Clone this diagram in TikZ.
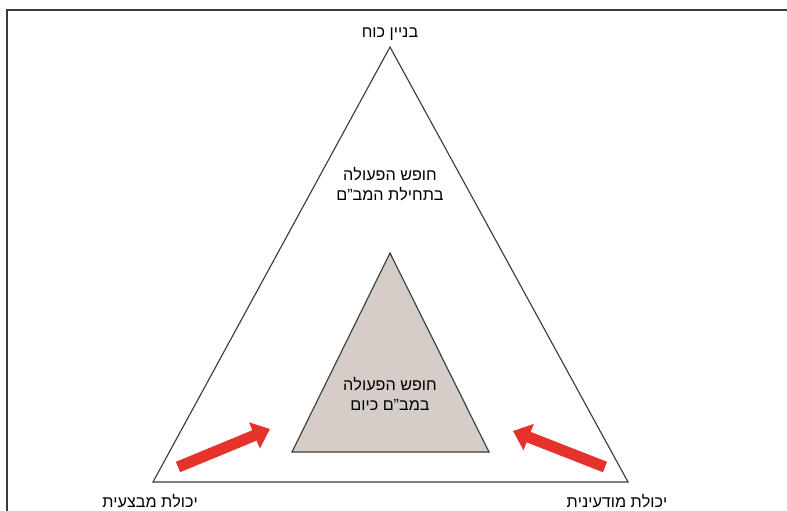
\documentclass[tikz,border=0pt]{standalone}
\usepackage{fontspec}
\setmainfont{Liberation Sans}
\TeXXeTstate=1
\usetikzlibrary{arrows.meta}
\newcommand{\heb}[1]{\beginR #1\endR}
\definecolor{arrowred}{HTML}{E5322B}
\definecolor{innergray}{HTML}{D5CDC7}
\definecolor{edgegray}{HTML}{3A3A3A}

\begin{document}
\begin{tikzpicture}[x=0.025cm, y=-0.025cm, >={Triangle[length=4.2mm, width=6.8mm]},
  lbl/.style={font=\fontsize{11.5}{14}\selectfont, inner sep=1pt, align=center},
  bigarrow/.style={->, line width=2.8mm, arrowred}]
\useasboundingbox (0,0) rectangle (787,511);
% frame (left and top only)
\draw[line width=1.1pt, edgegray] (7,511) -- (7,10) -- (787,10);
% outer triangle
\coordinate (top) at (390,47);
\coordinate (bl) at (153,482);
\coordinate (br) at (628,482);
\draw[line width=0.8pt, edgegray] (top) -- (br) -- (bl) -- cycle;
% inner triangle
\coordinate (itop) at (390,253);
\coordinate (ibl) at (292,452);
\coordinate (ibr) at (489,452);
\draw[line width=0.8pt, edgegray, fill=innergray] (itop) -- (ibr) -- (ibl) -- cycle;
% labels
\node[lbl] (force) at (390,34) {\heb{בניין כוח}};
\node[lbl] (start) at (390,184) {\heb{חופש הפעולה}\\\heb{בתחילת המב"ם}};
\node[lbl] (now) at (390,394) {\heb{חופש הפעולה}\\\heb{במב"ם כיום}};
\node[lbl] (oper) at (150,501) {\heb{יכולת מבצעית}};
\node[lbl] (intel) at (617,501) {\heb{יכולת מודעינית}};
% arrows
\coordinate (la) at (178,467);
\coordinate (lb) at (270,429);
\coordinate (ra) at (605,467);
\coordinate (rb) at (513,431);
\draw[bigarrow] (la) -- (lb);
\draw[bigarrow] (ra) -- (rb);
\end{tikzpicture}
\end{document}
